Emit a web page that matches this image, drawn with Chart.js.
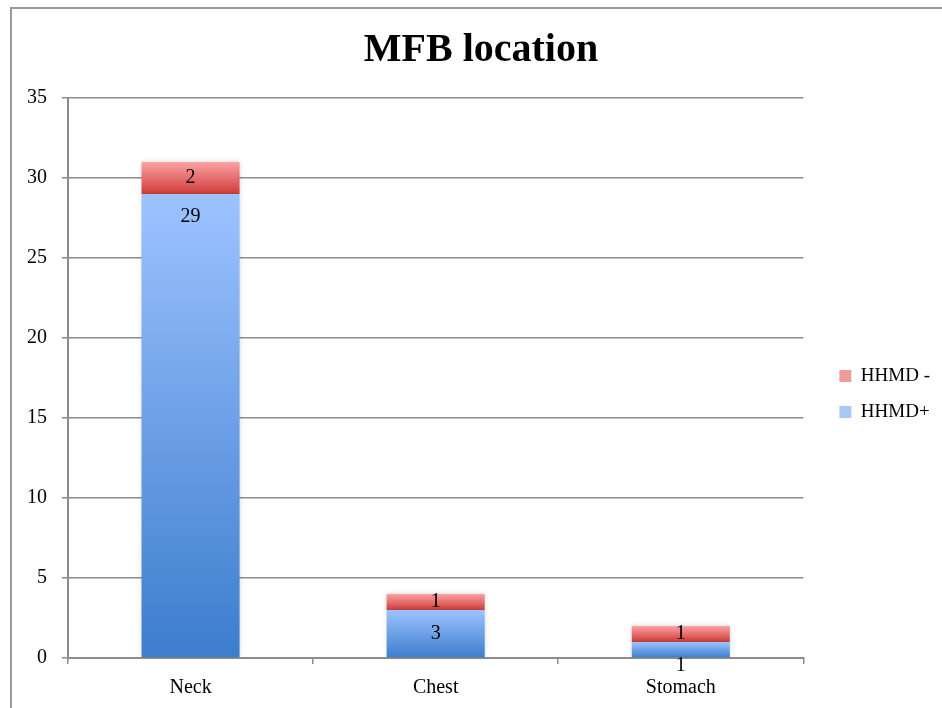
<!DOCTYPE html>
<html>
<head>
<meta charset="utf-8">
<script src="https://cdn.jsdelivr.net/npm/chart.js@4"></script>
<style>
  html, body { margin: 0; padding: 0; background: #ffffff; }
  #wrap { position: relative; width: 942px; height: 708px; }
  #frame { position: absolute; left: 10px; top: 7px; right: 0; bottom: 0;
           border-left: 2px solid #9a9a9a; border-top: 2px solid #9a9a9a; }
  canvas { position: absolute; left: 0; top: 0; }
</style>
</head>
<body>
<div id="wrap">
  <div id="frame"></div>
  <canvas id="c" width="942" height="708"></canvas>
</div>
<script>
const categories = ['Neck', 'Chest', 'Stomach'];
const hhmdPlus = [29, 3, 1];
const hhmdMinus = [2, 1, 1];
const seriesNames = ['HHMD+', 'HHMD -'];
const yTicks = [0, 5, 10, 15, 20, 25, 30, 35];
const labelPlacePlus = ['end', 'center', 'below'];
const labelPlaceMinus = ['center', 'center', 'center'];

const SERIF = '"Liberation Serif", "Times New Roman", serif';

function segGradient(ctx, lo, hi, top, bottom, fallback) {
  const chart = ctx.chart;
  if (!chart.chartArea || ctx.dataIndex === undefined) return fallback;
  const y = chart.scales.y;
  const y0 = y.getPixelForValue(hi);
  const y1 = y.getPixelForValue(lo);
  if (!isFinite(y0) || !isFinite(y1) || y0 === y1) return fallback;
  const g = chart.ctx.createLinearGradient(0, y0, 0, y1);
  g.addColorStop(0, top);
  g.addColorStop(1, bottom);
  return g;
}

const barShadow = {
  id: 'barShadow',
  beforeDatasetsDraw(chart) {
    const ctx = chart.ctx;
    ctx.save();
    ctx.shadowColor = 'rgba(0,0,0,0.18)';
    ctx.shadowBlur = 5;
    ctx.shadowOffsetX = 0;
    ctx.shadowOffsetY = 0;
  },
  afterDatasetsDraw(chart) {
    chart.ctx.restore();
  }
};

const legendShift = {
  id: 'legendShift',
  afterLayout(chart) {
    const lg = chart.legend;
    if (lg) { lg.top += 40; lg.bottom += 40; }
  }
};

const valueLabels = {
  id: 'valueLabels',
  afterDatasetsDraw(chart) {
    const ctx = chart.ctx;
    ctx.save();
    ctx.shadowColor = 'rgba(0,0,0,0)';
    ctx.shadowBlur = 0;
    ctx.font = '20px ' + SERIF;
    ctx.fillStyle = '#000';
    ctx.textAlign = 'center';
    ctx.textBaseline = 'middle';
    chart.data.datasets.forEach((ds, di) => {
      const meta = chart.getDatasetMeta(di);
      const places = di === 0 ? labelPlacePlus : labelPlaceMinus;
      meta.data.forEach((bar, i) => {
        const p = bar.getProps(['x', 'y', 'base'], true);
        let ty;
        if (places[i] === 'end') ty = p.y + 23;
        else if (places[i] === 'below') ty = p.base + 8;
        else ty = (p.y + p.base) / 2;
        ctx.fillText(String(ds.data[i]), p.x, ty);
      });
    });
    ctx.restore();
  }
};

new Chart(document.getElementById('c'), {
  type: 'bar',
  data: {
    labels: categories,
    datasets: [
      {
        label: seriesNames[0],
        data: hhmdPlus,
        backgroundColor: (ctx) => segGradient(ctx, 0, hhmdPlus[ctx.dataIndex], '#9dc3ff', '#3c7dcd', '#6fa0e8'),
        legendColor: '#a9c8f7',
        borderWidth: 0,
        categoryPercentage: 1.0,
        barPercentage: 0.4
      },
      {
        label: seriesNames[1],
        data: hhmdMinus,
        backgroundColor: (ctx) => segGradient(ctx, hhmdPlus[ctx.dataIndex], hhmdPlus[ctx.dataIndex] + hhmdMinus[ctx.dataIndex], '#fba3a3', '#d03b3b', '#e77070'),
        legendColor: '#ef9c9c',
        borderWidth: 0,
        categoryPercentage: 1.0,
        barPercentage: 0.4
      }
    ]
  },
  options: {
    responsive: false,
    animation: false,
    devicePixelRatio: 1,
    layout: { padding: { left: 22, right: 2, top: 0, bottom: 0 } },
    plugins: {
      title: {
        display: true,
        text: 'MFB location',
        color: '#000',
        font: { family: SERIF, size: 40, weight: 'bold', lineHeight: 1.2 },
        padding: { top: 27, bottom: 23 }
      },
      legend: {
        display: true,
        position: 'right',
        reverse: true,
        labels: {
          color: '#000',
          font: { family: SERIF, size: 19 },
          boxWidth: 12,
          boxHeight: 12,
          padding: 17,
          generateLabels(chart) {
            return chart.data.datasets.map((ds, i) => ({
              text: ds.label,
              fillStyle: ds.legendColor,
              strokeStyle: ds.legendColor,
              lineWidth: 0,
              hidden: false,
              datasetIndex: i,
              fontColor: '#000'
            }));
          }
        }
      },
      tooltip: { enabled: false }
    },
    scales: {
      x: {
        stacked: true,
        afterFit(scale) { scale.height = 50; },
        grid: { display: true, drawOnChartArea: false, drawTicks: true, tickLength: 6, color: '#8c8c8c', lineWidth: 1.5, offset: true },
        border: { display: true, color: '#8c8c8c', width: 2 },
        ticks: { color: '#000', font: { family: SERIF, size: 20 }, padding: 12 }
      },
      y: {
        stacked: true,
        min: 0,
        max: 35,
        afterBuildTicks(scale) { scale.ticks = yTicks.map(v => ({ value: v })); },
        afterFit(scale) { scale.width = 46; },
        grid: { display: true, drawOnChartArea: true, drawTicks: true, tickLength: 6, color: '#8c8c8c', lineWidth: 1.5 },
        border: { display: true, color: '#8c8c8c', width: 2 },
        ticks: { color: '#000', font: { family: SERIF, size: 20 }, padding: 15 }
      },
      gap: {
        type: 'linear',
        position: 'right',
        display: true,
        grid: { display: false, drawTicks: false },
        border: { display: false },
        ticks: { display: false },
        afterFit(scale) { scale.width = 19; }
      }
    }
  },
  plugins: [barShadow, valueLabels, legendShift]
});
</script>
</body>
</html>
